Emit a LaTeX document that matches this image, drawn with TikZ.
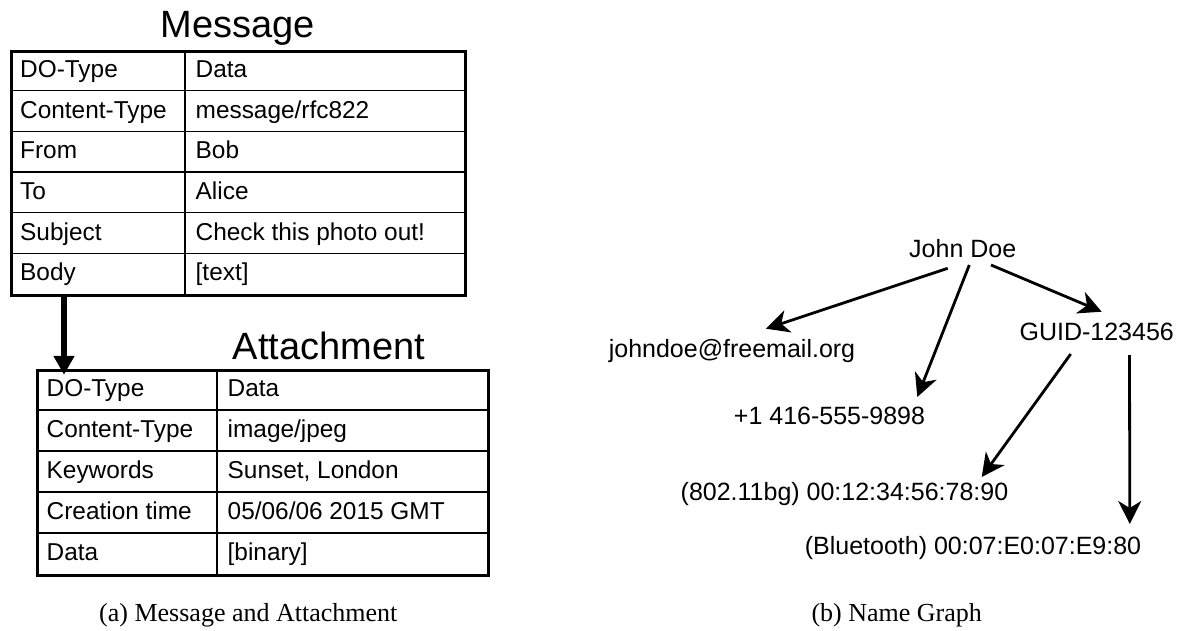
\documentclass[tikz,border=0pt]{standalone}
\usepackage{fontspec}
\setmainfont{Liberation Serif}
\newfontfamily\sansfont{Liberation Sans}
\usetikzlibrary{arrows.meta,calc}

\begin{document}
\begin{tikzpicture}[x=1pt,y=-1pt,
  cell/.style={anchor=base west, inner sep=0pt, font=\sansfont\fontsize{24.4}{28}\selectfont},
  ttl/.style={anchor=base, inner sep=0pt, font=\sansfont\fontsize{38}{44}\selectfont},
  lbl/.style={anchor=base, inner sep=0pt, font=\sansfont\fontsize{25}{30}\selectfont},
  capt/.style={anchor=base, inner sep=0pt, font=\fontsize{26}{30}\selectfont},
  tablebox/.style={draw, line width=3pt, anchor=north west, inner sep=0pt},
  rule/.style={line width=1.6pt},
  bigarrow/.style={line width=5.5pt, -{Triangle[length=19pt,width=20pt]}},
  link/.style={line width=2.8pt, -{Stealth[length=23pt,width=23pt,inset=7pt]}}]

\useasboundingbox (0,0) rectangle (1180,630);

% ---------------- Message table ----------------
\node[ttl] (msgtitle) at (238,37) {Message};
\node[tablebox, minimum width=454.5pt, minimum height=244pt] (msg) at (9.5,50) {};
\foreach \i in {1,...,5}
  \draw[rule] ($(msg.north west)+(0,\i*40.667)$) -- ($(msg.north east)+(0,\i*40.667)$);
\draw[rule] ($(msg.north west)+(175.5,0)$) -- ($(msg.south west)+(175.5,0)$);

\node[cell] (m1k) at (20,77.5)  {DO-Type};
\node[cell] (m1v) at (195.5,77.5) {Data};
\node[cell] (m2k) at (20,118.2) {Content-Type};
\node[cell] (m2v) at (195.5,118.2) {message/rfc822};
\node[cell] (m3k) at (20,158.8) {From};
\node[cell] (m3v) at (195.5,158.8) {Bob};
\node[cell] (m4k) at (20,199.5) {To};
\node[cell] (m4v) at (195.5,199.5) {Alice};
\node[cell] (m5k) at (20,240.2) {Subject};
\node[cell] (m5v) at (195.5,240.2) {Check this photo out!};
\node[cell] (m6k) at (20,280.8) {Body};
\node[cell] (m6v) at (195.5,280.8) {[text]};

% ---------------- Attachment table ----------------
\node[ttl] (atttitle) at (329,359) {Attachment};
\node[tablebox, minimum width=450.7pt, minimum height=204.7pt] (att) at (36,369.3) {};
\foreach \i in {1,...,4}
  \draw[rule] ($(att.north west)+(0,\i*40.94)$) -- ($(att.north east)+(0,\i*40.94)$);
\draw[rule] ($(att.north west)+(181,0)$) -- ($(att.south west)+(181,0)$);

\node[cell] (a1k) at (46.5,396.8) {DO-Type};
\node[cell] (a1v) at (227.5,396.8) {Data};
\node[cell] (a2k) at (46.5,437.7) {Content-Type};
\node[cell] (a2v) at (227.5,437.7) {image/jpeg};
\node[cell] (a3k) at (46.5,478.7) {Keywords};
\node[cell] (a3v) at (227.5,478.7) {Sunset, London};
\node[cell] (a4k) at (46.5,519.6) {Creation time};
\node[cell] (a4v) at (227.5,519.6) {05/06/06 2015 GMT};
\node[cell] (a5k) at (46.5,560.6) {Data};
\node[cell] (a5v) at (227.5,560.6) {[binary]};

% body of the message points to the attachment
\draw[bigarrow] ($(msg.south west)+(54.5,0)$) -- ($(att.north west)+(28,5.5)$);

\node[capt] (capa) at (248.3,621) {(a) Message and Attachment};

% ---------------- Name graph ----------------
\node[lbl] (jd)    at (962.7,257.3) {John Doe};
\node[lbl] (email) at (732,357.3)   {johndoe@freemail.org};
\node[lbl] (phone) at (829.5,424.2) {+1 416-555-9898};
\node[lbl] (guid)  at (1096.7,340)  {GUID-123456};
\node[lbl] (wifi)  at (844.5,500)   {(802.11bg) 00:12:34:56:78:90};
\node[lbl] (bt)    at (973,554)     {(Bluetooth) 00:07:E0:07:E9:80};

\draw[link] ($(jd.base)+(-15,11)$)    -- ($(email.base)+(34,-28.6)$);
\draw[link] ($(jd.base)+(6.6,7.7)$)   -- ($(phone.base)+(87.8,-27.2)$);
\draw[link] ($(jd.base)+(28.3,7.7)$)  -- ($(guid.base)+(5,-28.3)$);
\draw[link] ($(guid.base)+(-26,14)$)  -- ($(wifi.base)+(137.2,-23)$);
\draw[link] ($(guid.base)+(32.8,15)$) -- ($(bt.base)+(156.8,-30)$);

\node[capt] (capb) at (896.7,621) {(b) Name Graph};
\end{tikzpicture}
\end{document}
